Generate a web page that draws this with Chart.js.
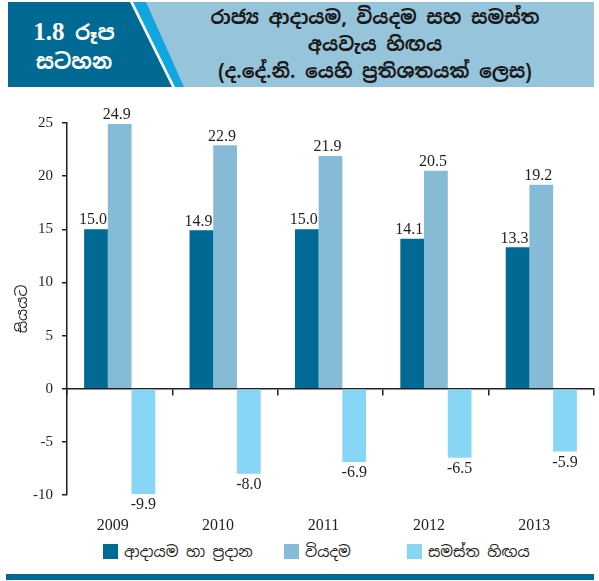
<!DOCTYPE html>
<html lang="si">
<head>
  <meta charset="UTF-8">
  <title>රාජ්‍ය ආදායම, වියදම සහ සමස්ත අයවැය හිඟය</title>
  <script src="https://cdn.jsdelivr.net/npm/chart.js"></script>
  <style>
    body {
      margin: 0;
      background: white;
      font-family: 'Noto Sans Sinhala', 'Iskoola Pota', 'Liberation Serif', serif;
    }
    #page { position: relative; width: 599px; height: 581px; overflow: hidden; }
    #header { position: absolute; left: 0; top: 0; }
    .badge {
      position: absolute; left: 18px; width: 112px; text-align: center;
      color: white; font-weight: bold; font-size: 21px;
    }
    .badge b { font-family: 'Liberation Serif', serif; font-size: 25px; }
    .title {
      position: absolute; left: 170px; width: 410px; text-align: center;
      color: #1a1a1a; font-weight: bold; font-size: 19px;
    }
    #chartBox { position: absolute; left: 0; top: 95px; width: 599px; height: 442px; }
    .legend-item {
      position: absolute; top: 543px; height: 18px; line-height: 18px;
      font-size: 15px; color: #231f20; white-space: nowrap;
    }
    .legend-item i {
      display: inline-block; width: 15px; height: 15px; margin-right: 6px;
      vertical-align: -2px;
    }
    #footer { position: absolute; left: 6px; top: 574px; width: 588px; height: 6px; background: #006a94; }
  </style>
</head>
<body>
<div id="page">
  <svg id="header" width="599" height="90">
    <rect x="8" y="2" width="586" height="85" fill="#96c4da"/>
    <polygon points="8,2 146,2 184,87 8,87" fill="#12a6e0"/>
    <polygon points="8,2 133,2 175,87 8,87" fill="#ffffff"/>
    <polygon points="8,2 130,2 172,87 8,87" fill="#006a94"/>
  </svg>
  <div class="badge" style="top:18px;"><b>1.8</b> රූප</div>
  <div class="badge" style="top:48px;">සටහන</div>
  <div class="title" style="top:5px;">රාජ්‍ය ආදායම, වියදම සහ සමස්ත</div>
  <div class="title" style="top:32px;">අයවැය හිඟය</div>
  <div class="title" style="top:59px;">(ද.දේ.නි. යෙහි ප්‍රතිශතයක් ලෙස)</div>

  <div id="chartBox"><canvas id="budgetChart"></canvas></div>
  <div id="legend"></div>
  <div id="footer"></div>
</div>

<script>
const years = ['2009', '2010', '2011', '2012', '2013'];
const revenue = [15.0, 14.9, 15.0, 14.1, 13.3];
const expenditure = [24.9, 22.9, 21.9, 20.5, 19.2];
const deficit = [-9.9, -8.0, -6.9, -6.5, -5.9];

const seriesNames = ['ආදායම හා ප්‍රදාන', 'වියදම', 'සමස්ත හිඟය'];
const seriesColors = ['#006a94', '#85bbd6', '#87d6f5'];

const serif = "'Liberation Serif', 'Times New Roman', serif";
const sinhala = "'Noto Sans Sinhala', 'Iskoola Pota', sans-serif";

// legend is laid out by hand, the items in the original are not evenly spaced
const legendLeft = [103, 284, 407];
const legendBox = document.getElementById('legend');
seriesNames.forEach((name, i) => {
  const item = document.createElement('div');
  item.className = 'legend-item';
  item.style.left = legendLeft[i] + 'px';
  item.innerHTML = '<i style="background:' + seriesColors[i] + '"></i>' + name;
  legendBox.appendChild(item);
});

const valueLabels = {
  id: 'valueLabels',
  afterDatasetsDraw(chart) {
    const ctx = chart.ctx;
    ctx.save();
    ctx.font = '16px ' + serif;
    ctx.fillStyle = '#231f20';
    ctx.textAlign = 'center';
    chart.data.datasets.forEach((ds, i) => {
      chart.getDatasetMeta(i).data.forEach((bar, j) => {
        const v = ds.data[j];
        if (v >= 0) {
          ctx.textBaseline = 'bottom';
          ctx.fillText(v.toFixed(1), bar.x - 3, bar.y - 1);
        } else {
          ctx.textBaseline = 'top';
          ctx.fillText(v.toFixed(1), bar.x, bar.y + 3);
        }
      });
    });
    ctx.restore();
  }
};

new Chart(document.getElementById('budgetChart'), {
  type: 'bar',
  data: {
    labels: years,
    datasets: [
      { label: seriesNames[0], data: revenue, backgroundColor: seriesColors[0] },
      { label: seriesNames[1], data: expenditure, backgroundColor: seriesColors[1] },
      { label: seriesNames[2], data: deficit, backgroundColor: seriesColors[2] }
    ]
  },
  options: {
    responsive: true,
    maintainAspectRatio: false,
    animation: false,
    categoryPercentage: 0.675,
    barPercentage: 1,
    layout: { padding: { top: 28, right: 5, left: 0, bottom: 0 } },
    plugins: {
      tooltip: { enabled: false },
      legend: { display: false }
    },
    scales: {
      x: {
        position: { y: 0 },
        offset: true,
        ticks: { display: false },
        grid: { offset: true, drawOnChartArea: false, tickLength: 6, color: '#231f20', lineWidth: 1.5 },
        border: { color: '#231f20', width: 1.5 }
      },
      x2: {
        type: 'category',
        labels: years,
        position: 'bottom',
        offset: true,
        grid: { display: false },
        border: { display: false },
        ticks: { color: '#231f20', font: { family: serif, size: 16 }, padding: 13, labelOffset: -7 },
        afterFit(scale) { scale.height = 42; }
      },
      y: {
        min: -10, max: 25,
        ticks: { stepSize: 5, color: '#231f20', font: { family: serif, size: 15 }, padding: 9 },
        grid: { drawOnChartArea: false, tickLength: 5, color: '#231f20', lineWidth: 1.5 },
        border: { color: '#231f20', width: 1.5 },
        title: { display: true, text: 'සියයට', color: '#231f20', font: { family: sinhala, size: 15 }, padding: { top: 14, bottom: 0 } },
        afterFit(scale) { scale.width = 67; }
      }
    }
  },
  plugins: [valueLabels]
});
</script>
</body>
</html>
